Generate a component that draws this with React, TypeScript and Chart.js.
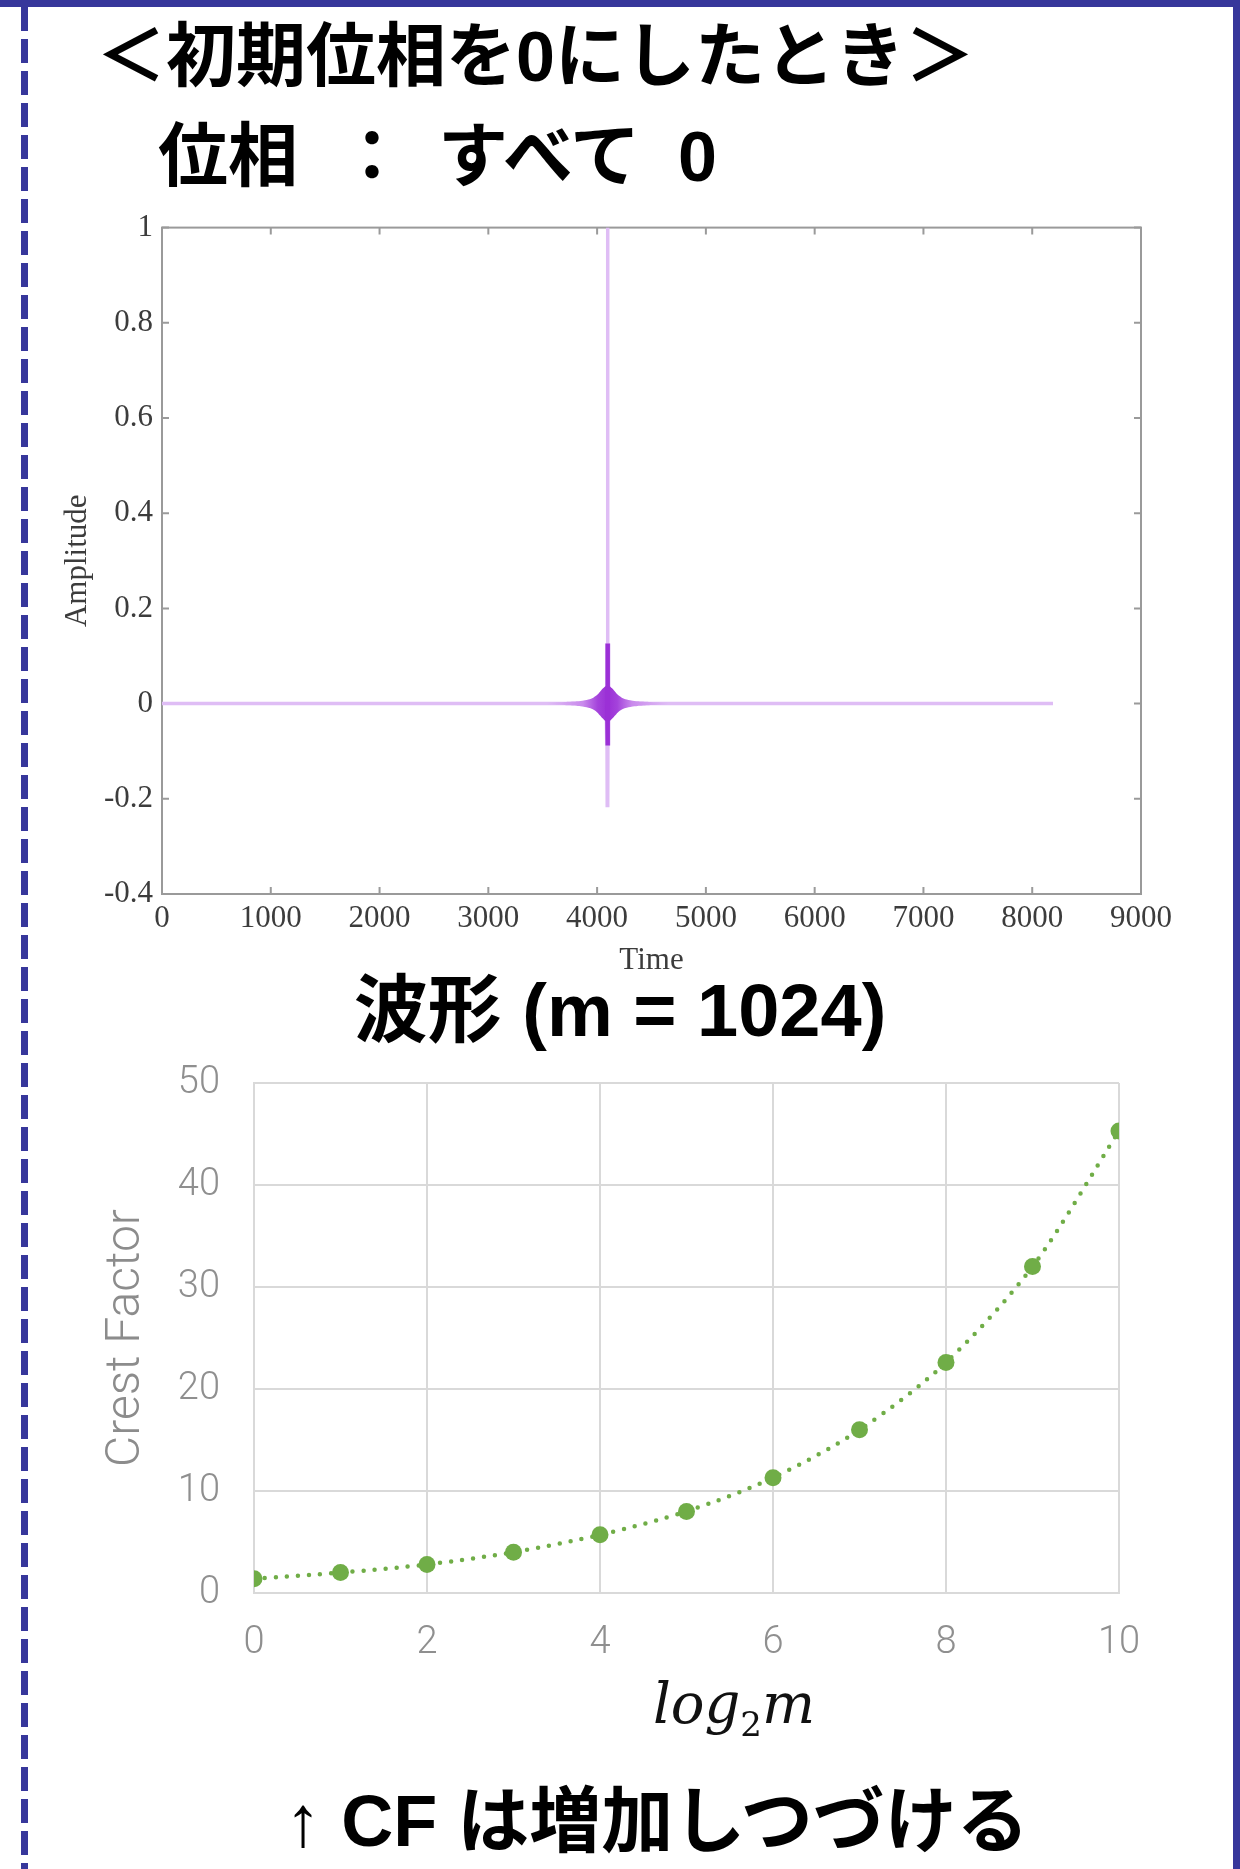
import React, { useEffect, useRef } from "react";
import { Chart, registerables } from "chart.js";

Chart.register(...registerables);

// ---- Chart 1: waveform (m = 1024), all phases 0 ----
// main pulse samples
const waveTime = [0, 4084, 4087, 4090, 4093, 4096, 4099, 4102, 4105, 4108, 8191];
const waveAmp = [0, 0, -0.088, 0.126, -0.214, 1.0, -0.214, 0.126, -0.088, 0, 0];
// envelope (half-height) of the dense ripple around the pulse
const rippleTime = [
  3536, 3716, 3821, 3876, 3931, 3968, 4004, 4027, 4050, 4073, 4096, 4119, 4142, 4165, 4188, 4224,
  4261, 4316, 4371, 4476, 4656,
];
const rippleEnv = [
  0.002, 0.0034, 0.0048, 0.0065, 0.0092, 0.013, 0.019, 0.025, 0.031, 0.036, 0.038, 0.036, 0.031, 0.025,
  0.019, 0.013, 0.0092, 0.0065, 0.0048, 0.0034, 0.002,
];
const timeTicks = [0, 1000, 2000, 3000, 4000, 5000, 6000, 7000, 8000, 9000];
const ampTicks = [-0.4, -0.2, 0, 0.2, 0.4, 0.6, 0.8, 1];

// ---- Chart 2: crest factor vs log2 m ----
const log2m = [0, 1, 2, 3, 4, 5, 6, 7, 8, 9, 10];
const crestFactor = [1.4, 2.0, 2.8, 4.0, 5.7, 8.0, 11.3, 16.0, 22.6, 32.0, 45.3];
const log2mTicks = [0, 2, 4, 6, 8, 10];
const cfTicks = [0, 10, 20, 30, 40, 50];

const BLUE = "#37379b";
const DARK_PURPLE = "#9b30d6";
const LIGHT_PURPLE = "#dfbdf5";

const framePlugin = {
  id: "matlabFrame",
  beforeDatasetsDraw(chart: any) {
    const { ctx, chartArea: a, scales } = chart;
    ctx.save();
    ctx.strokeStyle = "#9a9a9a";
    ctx.lineWidth = 2;
    ctx.strokeRect(a.left, a.top, a.right - a.left, a.bottom - a.top);
    ctx.beginPath();
    const tl = 7;
    scales.x.ticks.forEach((t: any) => {
      const px = scales.x.getPixelForValue(t.value);
      ctx.moveTo(px, a.bottom);
      ctx.lineTo(px, a.bottom - tl);
      ctx.moveTo(px, a.top);
      ctx.lineTo(px, a.top + tl);
    });
    scales.y.ticks.forEach((t: any) => {
      const py = scales.y.getPixelForValue(t.value);
      ctx.moveTo(a.left, py);
      ctx.lineTo(a.left + tl, py);
      ctx.moveTo(a.right, py);
      ctx.lineTo(a.right - tl, py);
    });
    ctx.stroke();
    ctx.restore();
  },
};

export default function App() {
  const c1 = useRef<HTMLCanvasElement>(null);
  const c2 = useRef<HTMLCanvasElement>(null);

  useEffect(() => {
    const serif = { family: "'Liberation Serif', 'Times New Roman', serif", size: 31 };
    const lightPts = waveTime.map((t, i) => ({ x: t, y: waveAmp[i] }));
    const corePts = waveTime.map((t, i) => ({
      x: t,
      y: Math.abs(t - 4096) <= 12 && Math.abs(waveAmp[i]) < 0.2 ? waveAmp[i] : null,
    }));
    const upper = rippleTime.map((t, i) => ({ x: t, y: rippleEnv[i] }));
    const lower = rippleTime.map((t, i) => ({ x: t, y: -rippleEnv[i] }));

    const rippleFill = (c: any) => {
      const chart = c.chart;
      if (!chart.chartArea) return DARK_PURPLE;
      const xs = chart.scales.x;
      const x0 = xs.getPixelForValue(rippleTime[0]);
      const x1 = xs.getPixelForValue(rippleTime[rippleTime.length - 1]);
      const g = chart.ctx.createLinearGradient(x0, 0, x1, 0);
      g.addColorStop(0, LIGHT_PURPLE);
      g.addColorStop(0.3, "#c98aec");
      g.addColorStop(0.42, "#a443db");
      g.addColorStop(0.5, DARK_PURPLE);
      g.addColorStop(0.58, "#a443db");
      g.addColorStop(0.7, "#c98aec");
      g.addColorStop(1, LIGHT_PURPLE);
      return g;
    };

    const ch1 = new Chart(c1.current!, {
      type: "line",
      data: {
        datasets: [
          {
            label: "core",
            data: corePts as any,
            borderColor: DARK_PURPLE,
            borderWidth: 2.5,
            pointRadius: 0,
            tension: 0,
            spanGaps: false,
          },
          {
            label: "ripple+",
            data: upper,
            borderWidth: 0,
            borderColor: "rgba(0,0,0,0)",
            backgroundColor: rippleFill as any,
            fill: "+1",
            pointRadius: 0,
            tension: 0.2,
          },
          {
            label: "ripple-",
            data: lower,
            borderWidth: 0,
            borderColor: "rgba(0,0,0,0)",
            fill: false,
            pointRadius: 0,
            tension: 0.2,
          },
          {
            label: "Amplitude",
            data: lightPts,
            borderColor: LIGHT_PURPLE,
            borderWidth: 3.5,
            pointRadius: 0,
            tension: 0,
          },
        ],
      },
      options: {
        animation: false,
        responsive: false,
        devicePixelRatio: 1,
        layout: { padding: { top: 27, right: 99, left: 0, bottom: 0 } },
        plugins: { legend: { display: false }, tooltip: { enabled: false } },
        scales: {
          x: {
            type: "linear",
            min: 0,
            max: 9000,
            afterBuildTicks: (s: any) => {
              s.ticks = timeTicks.map((v) => ({ value: v }));
            },
            afterFit: (s: any) => {
              s.height = 96;
            },
            ticks: {
              font: serif,
              color: "#3c3c3c",
              padding: 6,
              maxRotation: 0,
              autoSkip: false,
              callback: (v: any) => String(v),
            },
            grid: { display: false, drawTicks: false },
            border: { display: false },
            title: {
              display: true,
              text: "Time",
              font: serif,
              color: "#3c3c3c",
              padding: { top: 0, bottom: 11 },
            },
          },
          y: {
            type: "linear",
            min: -0.4,
            max: 1,
            afterBuildTicks: (s: any) => {
              s.ticks = ampTicks.map((v) => ({ value: v }));
            },
            afterFit: (s: any) => {
              s.width = 162;
            },
            ticks: {
              font: serif,
              color: "#3c3c3c",
              padding: 9,
              autoSkip: false,
              callback: (v: any) => String(Math.round(Number(v) * 10) / 10),
            },
            grid: { display: false, drawTicks: false },
            border: { display: false },
            title: {
              display: true,
              text: "Amplitude",
              font: serif,
              color: "#3c3c3c",
              padding: { top: 59, bottom: 0 },
            },
          },
        },
      },
      plugins: [framePlugin],
    });

    const light = { family: "Roboto, 'Noto Sans', sans-serif", size: 38, weight: "300" as any };
    const ch2 = new Chart(c2.current!, {
      type: "line",
      data: {
        datasets: [
          {
            label: "Crest Factor",
            data: log2m.map((x, i) => ({ x, y: crestFactor[i] })),
            borderColor: "#70ad47",
            backgroundColor: "#70ad47",
            borderWidth: 4.5,
            borderDash: [0, 11],
            borderCapStyle: "round",
            pointRadius: 8.5,
            pointBorderWidth: 0,
            pointBackgroundColor: "#70ad47",
            tension: 0.3,
          },
        ],
      },
      options: {
        animation: false,
        responsive: false,
        devicePixelRatio: 1,
        layout: { padding: { top: 57, right: 121, left: 0, bottom: 0 } },
        plugins: { legend: { display: false }, tooltip: { enabled: false } },
        scales: {
          x: {
            type: "linear",
            min: 0,
            max: 10,
            afterBuildTicks: (s: any) => {
              s.ticks = log2mTicks.map((v) => ({ value: v }));
            },
            afterFit: (s: any) => {
              s.height = 87;
            },
            ticks: { font: light, color: "#8f8f8f", padding: 28, maxRotation: 0, autoSkip: false },
            grid: { color: "#d9d9d9", lineWidth: 2, drawTicks: false },
            border: { display: true, color: "#d9d9d9", width: 2 },
          },
          y: {
            type: "linear",
            min: 0,
            max: 50,
            afterBuildTicks: (s: any) => {
              s.ticks = cfTicks.map((v) => ({ value: v }));
            },
            afterFit: (s: any) => {
              s.width = 254;
            },
            ticks: { font: light, color: "#8f8f8f", padding: 34, autoSkip: false },
            grid: { color: "#d9d9d9", lineWidth: 2, drawTicks: false },
            border: { display: true, color: "#d9d9d9", width: 2 },
            title: {
              display: true,
              text: "Crest Factor",
              font: { family: "Roboto, 'Noto Sans', sans-serif", size: 48, weight: "300" as any },
              color: "#8c8c8c",
              padding: { top: 98, bottom: 0 },
            },
          },
        },
      },
    });

    return () => {
      ch1.destroy();
      ch2.destroy();
    };
  }, []);

  const jp = "'Liberation Sans', 'Noto Sans CJK JP', sans-serif";
  const abs = (s: React.CSSProperties): React.CSSProperties => ({
    position: "absolute",
    whiteSpace: "nowrap",
    lineHeight: 1,
    fontFamily: jp,
    fontWeight: 700,
    color: "#000",
    ...s,
  });

  return (
    <div
      style={{
        position: "absolute",
        left: 0,
        top: 0,
        width: 1240,
        height: 1869,
        background: "#fff",
        overflow: "hidden",
      }}
    >
      {/* frame decorations */}
      <div style={{ position: "absolute", left: 0, top: 0, width: 1240, height: 7, background: BLUE }} />
      <div style={{ position: "absolute", left: 1233, top: 0, width: 7, height: 1869, background: BLUE }} />
      <div
        style={{
          position: "absolute",
          left: 21,
          top: 0,
          width: 7,
          height: 1869,
          backgroundImage: `repeating-linear-gradient(to bottom, ${BLUE} 0px, ${BLUE} 24px, transparent 24px, transparent 32px)`,
          backgroundPosition: "0 7px",
        }}
      />

      {/* headings */}
      <div style={abs({ left: 96, top: 22, fontSize: 70 })}>＜初期位相を0にしたとき＞</div>
      <div style={abs({ left: 158, top: 122, fontSize: 70 })}>位相</div>
      <div style={abs({ left: 337, top: 122, fontSize: 70 })}>：</div>
      <div style={abs({ left: 438, top: 122, fontSize: 70 })}>すべて</div>
      <div style={abs({ left: 678, top: 122, fontSize: 70 })}>0</div>

      <div style={{ position: "absolute", left: 0, top: 200, width: 1240, height: 790 }}>
        <canvas ref={c1} width={1240} height={790} style={{ display: "block" }} />
      </div>

      <div style={abs({ left: 620, top: 974, fontSize: 74, transform: "translateX(-50%)" })}>
        波形 (m = 1024)
      </div>

      <div style={{ position: "absolute", left: 0, top: 1026, width: 1240, height: 654 }}>
        <canvas ref={c2} width={1240} height={654} style={{ display: "block" }} />
      </div>

      <div
        style={{
          position: "absolute",
          left: 734,
          top: 1676,
          transform: "translateX(-50%)",
          whiteSpace: "nowrap",
          lineHeight: 1,
          fontFamily: "'DejaVu Serif', serif",
          fontStyle: "italic",
          fontSize: 56,
          color: "#111",
        }}
      >
        log
        <span style={{ fontStyle: "normal", fontSize: 34, verticalAlign: "-13px" }}>2</span>m
      </div>

      <div style={abs({ left: 657, top: 1785, fontSize: 72, transform: "translateX(-50%)" })}>
        ↑ CF は増加しつづける
      </div>
    </div>
  );
}
